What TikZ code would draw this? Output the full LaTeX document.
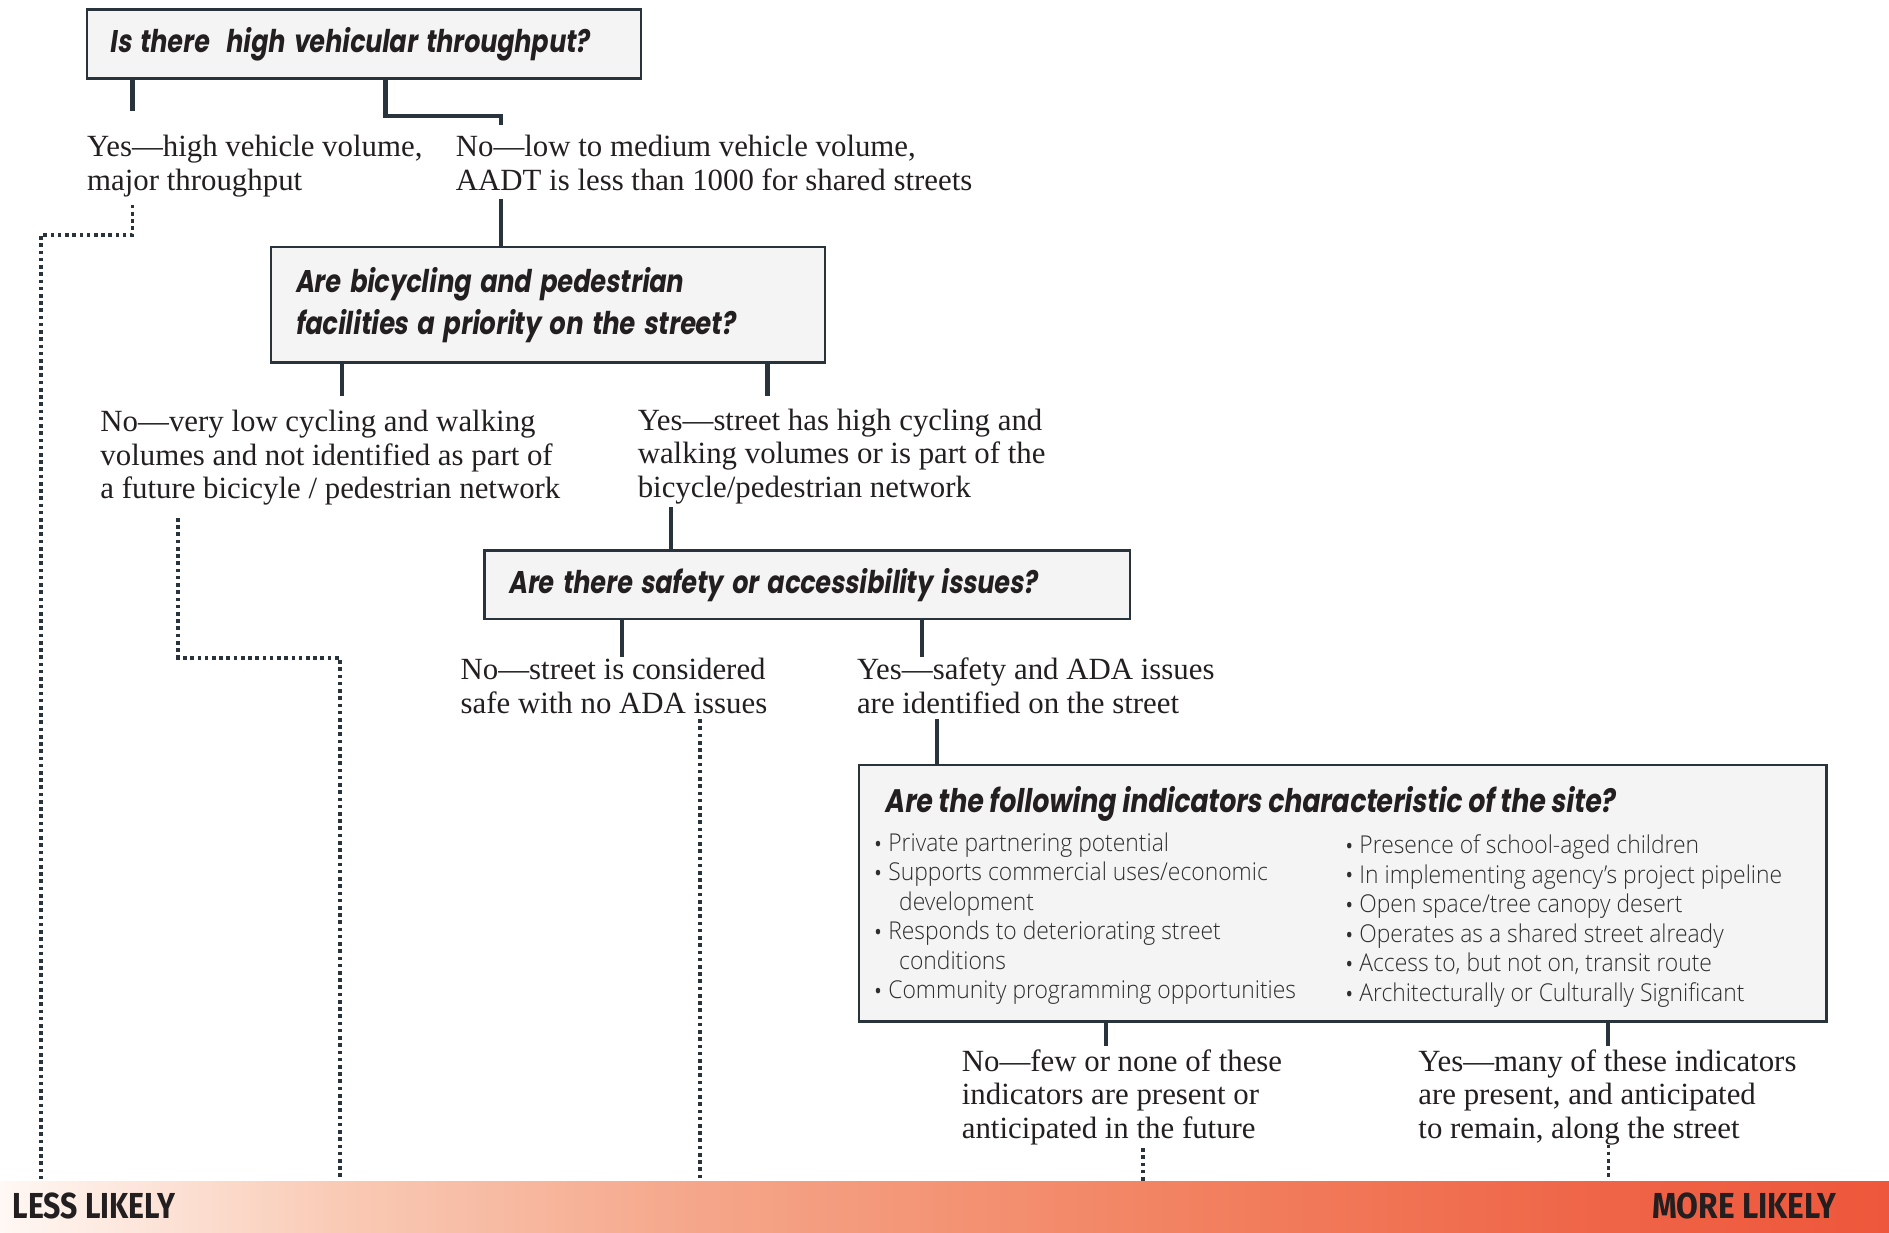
\documentclass[tikz,border=0pt]{standalone}
\usepackage{fontspec}
\usepackage{graphicx}
\setmainfont{Liberation Serif}
\newfontfamily\qfont{Poppins}[FakeSlant=0.18]
\newfontfamily\bulfont{Open Sans Light}[FakeStretch=0.93]
\newfontfamily\likfont{Fira Sans}
\definecolor{lineC}{HTML}{29333C}
\definecolor{boxC}{HTML}{F3F4F3}
\definecolor{txtC}{HTML}{231F20}
\definecolor{bulC}{HTML}{2E2E2E}
\definecolor{g0}{HTML}{FFF8F4}
\definecolor{g1}{HTML}{F9CAB5}
\definecolor{g2}{HTML}{F5A68A}
\definecolor{g3}{HTML}{F28463}
\definecolor{g4}{HTML}{EF6447}
\definecolor{g5}{HTML}{EE573B}
\pgfdeclarehorizontalshading{likely}{100bp}{color(0bp)=(g0); color(25bp)=(g0); color(34bp)=(g1); color(43.5bp)=(g2); color(55.5bp)=(g3); color(67.5bp)=(g4); color(75bp)=(g5); color(100bp)=(g5)}
\newcommand\fitw[2]{\resizebox{#1}{\height}{#2}}
\newcommand\bdot{\makebox[6.5pt][l]{\smash{\raisebox{-1.6pt}{\fontsize{13}{13}\selectfont•}}}}
\begin{document}
\begin{tikzpicture}[x=0.5pt,y=-0.5pt,
  qbox/.style={draw=lineC, line width=1pt, fill=boxC, anchor=north west, inner ysep=0pt, align=left, text=txtC, font=\qfont\bfseries\fontsize{13}{17.5}\selectfont},
  ptxt/.style={anchor=north west, inner sep=0pt, align=left, text=txtC, font=\fontsize{12.8}{14}\selectfont},
  bul/.style={anchor=north west, inner sep=0pt, align=left, text=bulC, font=\bulfont\fontsize{10.2}{12.25}\selectfont},
  conn/.style={draw=lineC, line width=1.75pt},
  dots/.style={draw=lineC, line width=1.5pt, dash pattern=on 1.5pt off 1.5pt},
  likely/.style={anchor=#1, inner sep=0pt, text=txtC, font=\likfont\bfseries\fontsize{15}{15}\selectfont}
]
\useasboundingbox (0,0) rectangle (1568,1023);

% boxes
\node[qbox, minimum width=230pt, minimum height=28.5pt, text width=211pt, inner xsep=9.5pt] (b1) at (71,7)
  {\raisebox{-1.5pt}{\fitw{199pt}{Is there~ high vehicular throughput?}}};
\node[qbox, minimum width=230pt, minimum height=48pt, text width=210pt, inner xsep=10pt] (b2) at (224,204)
  {\raisebox{-1pt}{\fitw{161pt}{Are bicycling and pedestrian}}\\\raisebox{-1pt}{\fitw{182.5pt}{facilities a priority on the street?}}};
\node[qbox, minimum width=268pt, minimum height=28.5pt, text width=248pt, inner xsep=10pt] (b3) at (401,456)
  {\raisebox{-1.5pt}{\fitw{219.5pt}{Are there safety or accessibility issues?}}};
\node[qbox, minimum width=401.5pt, minimum height=106.5pt, inner sep=0pt] (b4) at (712,634) {};
\node[anchor=west, inner sep=0pt, text=txtC, font=\qfont\bfseries\fontsize{13.5}{16}\selectfont] (t4) at (734,667)
  {\fitw{303pt}{Are the following indicators characteristic of the site?}};
\node[bul] (c1) at (724,689) {\strut\bdot Private partnering potential\\
  \bdot Supports commercial uses/economic\\
  \hspace*{11pt}development\\
  \bdot Responds to deteriorating street\\
  \hspace*{11pt}conditions\\
  \bdot Community programming opportunities};
\node[bul] (c2) at (1115,691) {\strut\bdot Presence of school-aged children\\
  \bdot In implementing agency’s project pipeline\\
  \bdot Open space/tree canopy desert\\
  \bdot Operates as a shared street already\\
  \bdot Access to, but not on, transit route\\
  \bdot Architecturally or Culturally Significant};

% answer texts
\node[ptxt] (yes1) at (72,110) {\strut Yes---high vehicle volume,\\major throughput};
\node[ptxt] (no1) at (378,110) {\strut No---low to medium vehicle volume,\\AADT is less than 1000 for shared streets};
\node[ptxt] (no2) at (83,338) {\strut No---very low cycling and walking\\volumes and not identified as part of\\a future bicicyle / pedestrian network};
\node[ptxt] (yes2) at (529,337) {\strut Yes---street has high cycling and\\walking volumes or is part of the\\bicycle/pedestrian network};
\node[ptxt] (no3) at (382,544) {\strut No---street is considered\\safe with no ADA issues};
\node[ptxt] (yes3) at (711,544) {\strut Yes---safety and ADA issues\\are identified on the street};
\node[ptxt] (no4) at (798,869) {\strut No---few or none of these\\indicators are present or\\anticipated in the future};
\node[ptxt] (yes4) at (1177,869) {\strut Yes---many of these indicators\\are present, and anticipated\\to remain, along the street};

% gradient bar
\node[anchor=north west, inner sep=0pt, draw=none, shade, shading=likely, minimum width=784pt, minimum height=21.5pt] (bar) at (0,980) {};
\node[likely=west] (less) at (10,1001) {\fitw{67.5pt}{LESS LIKELY}};
\node[likely=east] (more) at (1525,1001) {\fitw{76.5pt}{MORE LIKELY}};

% solid connectors
\draw[conn] (b1.south -| 110,0) -- (110,92);
\draw[conn] (b1.south -| 320,0) -- (320,96) -- (416,96) -- (416,104);
\draw[conn] (416,165) -- (b2.north -| 416,0);
\draw[conn] (b2.south -| 284,0) -- (284,329);
\draw[conn] (b2.south -| 637,0) -- (637,329);
\draw[conn] (557,421) -- (b3.north -| 557,0);
\draw[conn] (b3.south -| 516,0) -- (516,545);
\draw[conn] (b3.south -| 765,0) -- (765,545);
\draw[conn] (778,597) -- (b4.north -| 778,0);
\draw[conn] (b4.south -| 918,0) -- (918,868);
\draw[conn] (b4.south -| 1335,0) -- (1335,868);

% dotted connectors
\draw[dots] (110,170) -- (110,195) -- (34,195) -- (bar.north -| 34,0);
\draw[dots] (148,430) -- (148,546) -- (282,546) -- (bar.north -| 282,0);
\draw[dots] (581,597) -- (bar.north -| 581,0);
\draw[dots] (949,953) -- (bar.north -| 949,0);
\draw[dots] (1335,950) -- (bar.north -| 1335,0);
\end{tikzpicture}
\end{document}
